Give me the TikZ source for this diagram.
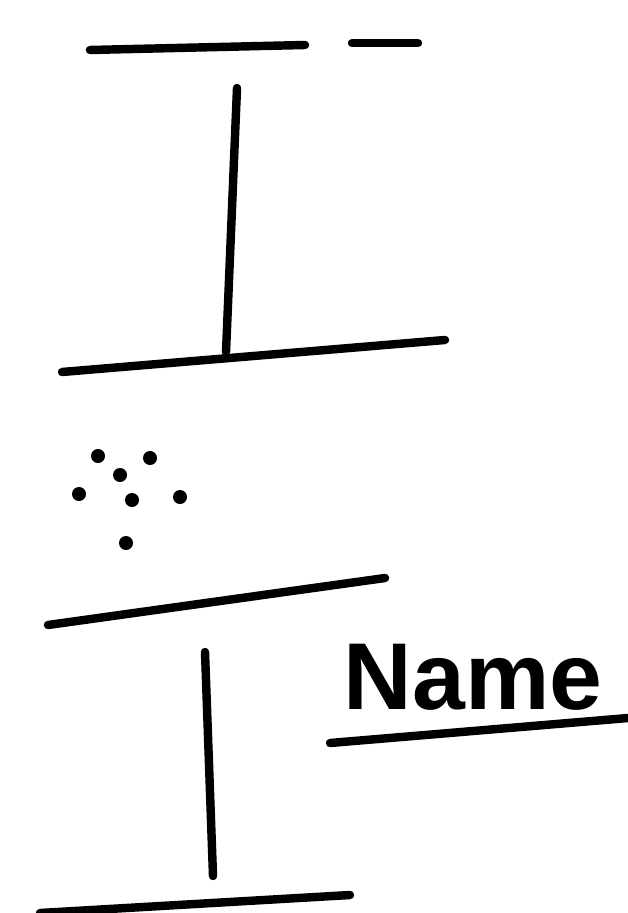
\documentclass[tikz,border=0pt]{standalone}
\usepackage{fontspec}
\setmainfont{Liberation Sans}
\usetikzlibrary{positioning}

\begin{document}
\begin{tikzpicture}[
  x=0.01cm, y=-0.01cm,
  pen/.style={line width=2.4pt, line cap=round, line join=round},
  dot/.style={circle, fill, inner sep=0pt, minimum size=1.4mm},
  lbl/.style={font=\bfseries\fontsize{27}{30}\selectfont, inner sep=0pt, anchor=base west},
]
  \useasboundingbox (0,0) rectangle (628,913);

  % upper bar
  \draw[pen] (90,50) -- (305,45);
  \draw[pen] (352,43) -- (418,43);
  \draw[pen] (237,88) -- (226,352);
  \draw[pen] (62,372) -- (445,340);

  % dots
  \foreach \px/\py in {98/456, 150/458, 120/475, 79/494, 132/500, 180/497, 126/543}
    \node[dot] at (\px,\py) {};

  % lower bar
  \draw[pen] (48,625) -- (385,578);
  \draw[pen] (205,652) -- (213,876);
  \draw[pen] (40,913) -- (350,895);

  % label
  \node[lbl] (name) at (343,709) {Name};
  \draw[pen] (330,743) -- (628,718);
\end{tikzpicture}
\end{document}
